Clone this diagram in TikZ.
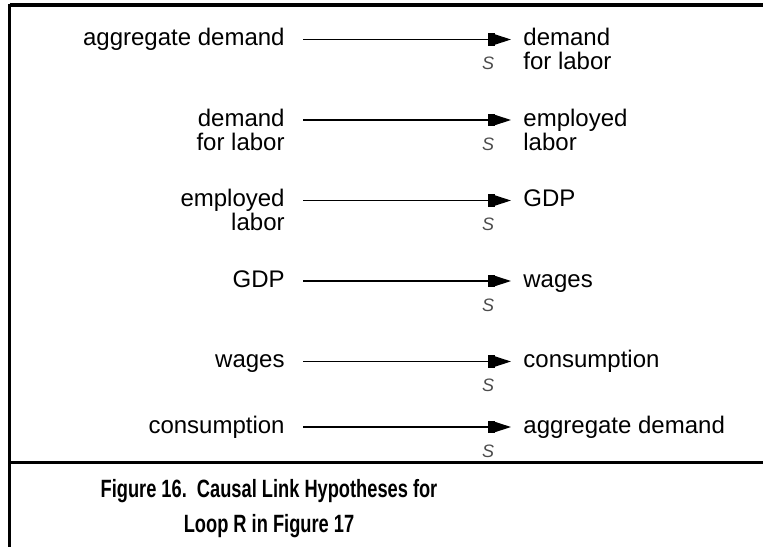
\documentclass[tikz,border=0pt]{standalone}
\usepackage{fontspec}
\setmainfont{Liberation Sans}
\usepackage{tikz}
\usetikzlibrary{arrows.meta}
\usetikzlibrary{positioning}

% two lines, base on the first one
\newcommand{\rstack}[2]{\begin{tabular}[t]{@{}r@{}}#1\\#2\end{tabular}}
\newcommand{\lstack}[2]{\begin{tabular}[t]{@{}l@{}}#1\\#2\end{tabular}}

\tikzset{
  txt/.style={font=\fontsize{12}{11.4}\selectfont, inner sep=0pt},
  cause/.style={txt, anchor=base east},
  effect/.style={txt, anchor=base west},
  link/.style={line width=0.65pt,
    -{Rectangle[length=3.5pt,width=6.3pt,sep=0pt]Triangle[length=8pt,width=5pt,sep=0pt]}},
  pol/.style={font=\fontsize{9}{9}\selectfont\itshape, text=black!70, inner sep=0pt},
  frame/.style={line width=1.8pt},
}

\begin{document}
\begin{tikzpicture}[x=0.5pt, y=-0.5pt]
    \useasboundingbox (0,0) rectangle (763,547);

    % Frame
    \draw[frame] (9.5,5) -- (763,5);
    \draw[frame] (9.5,4) -- (9.5,547);
    \draw[frame] (9.5,462.5) -- (763,462.5);

    % Causes
    \node[cause] (aggL) at (285,45.5) {aggregate demand};
    \node[cause] (demL) at (285,126) {\rstack{demand}{for labor}};
    \node[cause] (empL) at (285,206.5) {\rstack{employed}{labor}};
    \node[cause] (gdpL) at (285,287) {GDP};
    \node[cause] (wagL) at (285,367.5) {wages};
    \node[cause] (conL) at (285,433) {consumption};

    % Effects
    \node[effect] (demR) at (523,45.5) {\lstack{demand}{for labor}};
    \node[effect] (empR) at (523,126) {\lstack{employed}{labor}};
    \node[effect] (gdpR) at (523,206.5) {GDP};
    \node[effect] (wagR) at (523,287) {wages};
    \node[effect] (conR) at (523,367.5) {consumption};
    \node[effect] (aggR) at (523,433) {aggregate demand};

    % Connect the nodes
    \draw[link] ([shift={(9pt,3pt)}]aggL.base east) -- ([shift={(-6pt,3pt)}]demR.base west)
      node[pol, pos=0.89, yshift=-12pt] (s1) {S};
    \draw[link] ([shift={(9pt,3pt)}]demL.base east) -- ([shift={(-6pt,3pt)}]empR.base west)
      node[pol, pos=0.89, yshift=-12pt] (s2) {S};
    \draw[link] ([shift={(9pt,3pt)}]empL.base east) -- ([shift={(-6pt,3pt)}]gdpR.base west)
      node[pol, pos=0.89, yshift=-12pt] (s3) {S};
    \draw[link] ([shift={(9pt,3pt)}]gdpL.base east) -- ([shift={(-6pt,3pt)}]wagR.base west)
      node[pol, pos=0.89, yshift=-12pt] (s4) {S};
    \draw[link] ([shift={(9pt,3pt)}]wagL.base east) -- ([shift={(-6pt,3pt)}]conR.base west)
      node[pol, pos=0.89, yshift=-12pt] (s5) {S};
    \draw[link] ([shift={(9pt,3pt)}]conL.base east) -- ([shift={(-6pt,3pt)}]aggR.base west)
      node[pol, pos=0.89, yshift=-12pt] (s6) {S};

    % Caption (base is on the last line)
    \node[font=\fontsize{12.5}{17.5}\selectfont\bfseries, align=center, anchor=base, inner sep=0pt]
      (caption) at (269,532)
      {\scalebox{0.73}[1]{Figure 16.\ \ Causal Link Hypotheses for}\\
       \scalebox{0.73}[1]{Loop R in Figure 17}};
\end{tikzpicture}
\end{document}
